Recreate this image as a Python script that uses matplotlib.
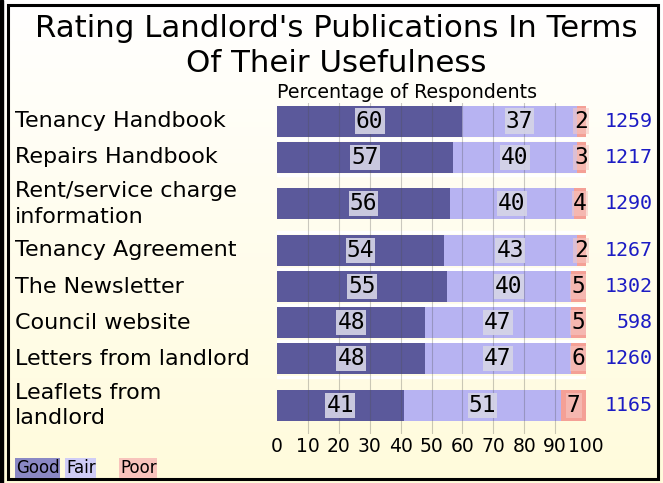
import numpy as np
import matplotlib
matplotlib.use('Agg')
import matplotlib.pyplot as plt
from matplotlib import transforms

# data
publications = ['Tenancy Handbook', 'Repairs Handbook', 'Rent/service charge\ninformation',
                'Tenancy Agreement', 'The Newsletter', 'Council website',
                'Letters from landlord', 'Leaflets from\nlandlord']
good = [60, 57, 56, 54, 55, 48, 48, 41]
fair = [37, 40, 40, 43, 40, 47, 47, 51]
poor = [2, 3, 4, 2, 5, 5, 6, 7]
respondents = [1259, 1217, 1290, 1267, 1302, 598, 1260, 1165]

c_good = '#5b599b'
c_fair = '#b7b3f2'
c_poor = '#f4a096'
c_count = '#1c1cc4'

W, H = 663, 483
fig = plt.figure(figsize=(W / 100, H / 100), dpi=100)

# background gradient: white at top to pale yellow at the bottom
bg = fig.add_axes([0, 0, 1, 1], zorder=-10)
grad = np.linspace(0, 1, 256)[:, None]
top = np.array([1.0, 1.0, 1.0])
bot = np.array([1.0, 0.985, 0.86])
img = top + (bot - top) * grad[..., None]
bg.imshow(img, aspect='auto', extent=[0, 1, 0, 1], origin='upper')
bg.set_xlim(0, 1)
bg.set_ylim(0, 1)
bg.axis('off')
# page frame
bg.add_patch(plt.Rectangle((8 / W, 4 / H), 650 / W, 474 / H, fill=False, lw=2.2, ec='black'))
bg.add_patch(plt.Rectangle((0, 0), 2.5 / W, 1, color='black'))

# row heights: two-line labels get a taller row
row_h = [57 if '\n' in p else 36 for p in publications]
edges = np.concatenate([[0], np.cumsum(row_h)])
y = (edges[:-1] + edges[1:]) / 2
total = edges[-1]

ax = fig.add_axes([277 / W, 1 - 434 / H, 309 / W, 331 / H])
ax.set_facecolor('none')
good = np.array(good)
fair = np.array(fair)
poor = np.array(poor)
bh = 31
ax.barh(y, good, height=bh, color=c_good, zorder=2)
ax.barh(y, fair, left=good, height=bh, color=c_fair, zorder=2)
# the poor segment fills the rest of the bar up to 100%
ax.barh(y, 100 - good - fair, left=good + fair, height=bh, color=c_poor, zorder=2)
for e in edges[1:-1]:
    ax.axhline(e, color='white', lw=2.5, zorder=1)
for gx in range(10, 100, 10):
    ax.axvline(gx, color='#505050', lw=0.8, alpha=0.3, zorder=3)

ax.set_xlim(0, 100)
ax.set_ylim(total, 0)
ax.set_xticks(range(0, 101, 10))
ax.tick_params(axis='x', length=0, labelsize=13.5, pad=2)
ax.set_yticks([])
for s in ax.spines.values():
    s.set_visible(False)

box = dict(boxstyle='square,pad=0.05', fc='#d6d5e6', ec='none', alpha=0.9)
pbox = dict(boxstyle='square,pad=0.05', fc='#f6c8c2', ec='none', alpha=0.6)
for i in range(len(y)):
    ax.text(good[i] / 2, y[i], str(good[i]), ha='center', va='center', family='DejaVu Sans Mono',
            fontsize=16.5, bbox=box, zorder=4)
    ax.text(good[i] + fair[i] / 2, y[i], str(fair[i]), ha='center', va='center', family='DejaVu Sans Mono',
            fontsize=16.5, bbox=box, zorder=4)
    ax.text((good[i] + fair[i] + 100) / 2, y[i], str(poor[i]), ha='center', va='center',
            family='DejaVu Sans Mono', fontsize=16.5, bbox=pbox, zorder=4)

trans = transforms.blended_transform_factory(fig.transFigure, ax.transData)
for i, p in enumerate(publications):
    ax.text(15 / W, y[i], p, transform=trans, ha='left', va='center', fontsize=16,
            linespacing=1.36, clip_on=False)
    ax.text(653 / W, y[i], str(respondents[i]), transform=trans, ha='right', va='center',
            family='DejaVu Sans Mono', fontsize=14.4, color=c_count, clip_on=False)

fig.text(336 / W, 1 - 46 / H, "Rating Landlord's Publications In Terms\nOf Their Usefulness",
         ha='center', va='center', fontsize=22.2, linespacing=1.29)
fig.text(277 / W, 1 - 93 / H, 'Percentage of Respondents', ha='left', va='center', fontsize=13.7)

# legend: text on coloured patches
leg_font = 12
fig.text(16 / W, 1 - 468 / H, 'Good', ha='left', va='center', fontsize=leg_font,
         bbox=dict(boxstyle='square,pad=0.05', fc='#8a88c4', ec='none'))
fig.text(66 / W, 1 - 468 / H, 'Fair', ha='left', va='center', fontsize=leg_font,
         bbox=dict(boxstyle='square,pad=0.05', fc='#cfccf6', ec='none'))
fig.text(120 / W, 1 - 468 / H, 'Poor', ha='left', va='center', fontsize=leg_font,
         bbox=dict(boxstyle='square,pad=0.05', fc='#f8c4bc', ec='none'))

fig.savefig('out.png', dpi=100)
